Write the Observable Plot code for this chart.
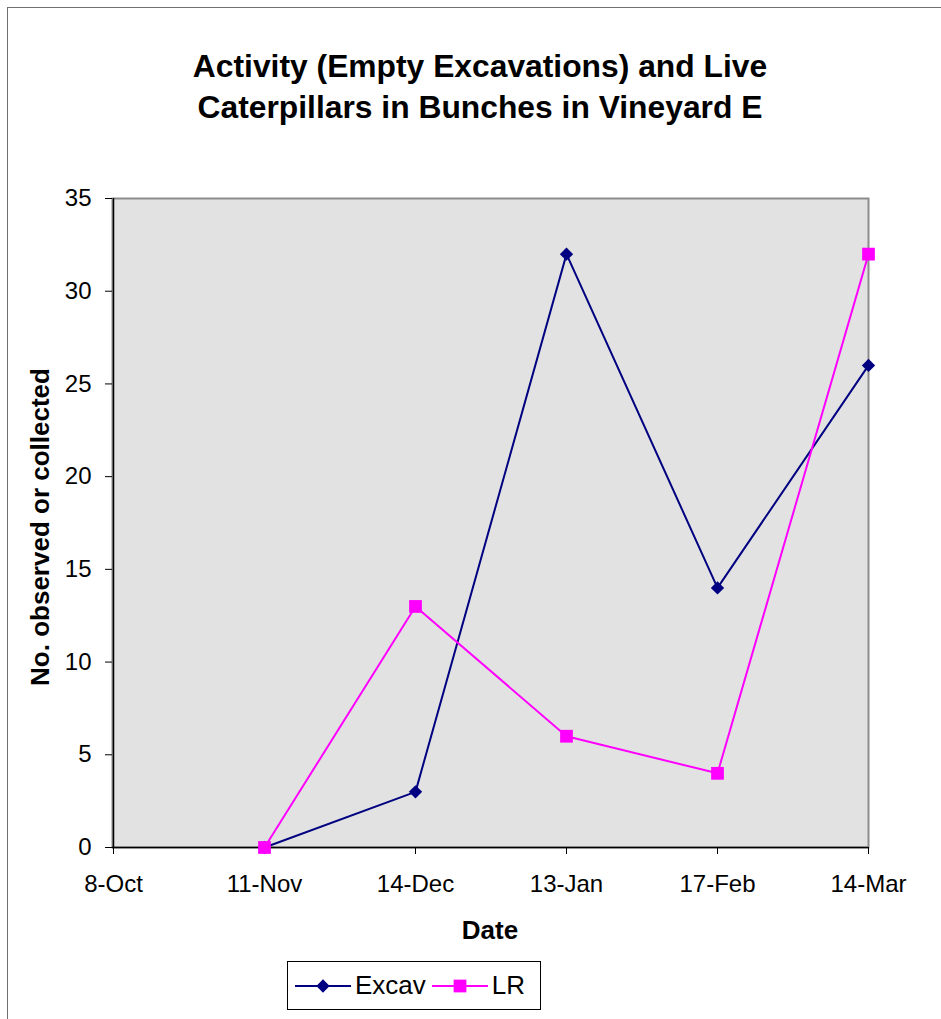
<!DOCTYPE html>
<html>
<head>
<meta charset="utf-8">
<script src="https://cdn.jsdelivr.net/npm/d3@7"></script>
<script src="https://cdn.jsdelivr.net/npm/@observablehq/plot@0.6"></script>
<style>
  html, body { margin: 0; padding: 0; background: #fff; }
  #chart { position: relative; width: 941px; height: 1019px; overflow: hidden;
           font-family: "Liberation Sans", Arial, sans-serif; color: #000; }
  #outline { position: absolute; left: 7px; top: 7px; width: 2000px; height: 2000px;
             border-left: 1.5px solid #707070; border-top: 1.5px solid #707070; }
  #plot { position: absolute; left: 0; top: 0; }
  #title { position: absolute; left: 0; width: 960px; top: 46px; text-align: center;
           font-weight: bold; font-size: 31.8px; line-height: 41px; }
  #ylabel { position: absolute; left: 40px; top: 527px; white-space: nowrap;
            transform: translate(-50%, -50%) rotate(-90deg);
            font-weight: bold; font-size: 26px; }
  #xlabel { position: absolute; left: 490px; top: 930px; transform: translate(-50%, -50%);
            font-weight: bold; font-size: 26px; }
  #legend { position: absolute; left: 287px; top: 961px; width: 252px; height: 47px;
            border: 1.5px solid #000; background: #fff; display: flex; align-items: center;
            font-size: 26px; box-sizing: content-box; }
  .item { display: flex; align-items: center; }
  .item svg { display: block; }
</style>
</head>
<body>
<div id="chart">
  <div id="outline"></div>
  <div id="plot"></div>
  <div id="title">Activity (Empty Excavations) and Live<br>Caterpillars in Bunches in Vineyard E</div>
  <div id="ylabel">No. observed or collected</div>
  <div id="xlabel">Date</div>
  <div id="legend"></div>
</div>
<script>
// Sampling dates (category axis) and counts per date
const dates = ["8-Oct", "11-Nov", "14-Dec", "13-Jan", "17-Feb", "14-Mar"];
const excav = [null, 0, 3, 32, 14, 26];   // empty excavations observed
const lr = [null, 0, 13, 6, 4, 32];       // live caterpillars collected
const yTicks = [0, 5, 10, 15, 20, 25, 30, 35];

const seriesNames = ["Excav", "LR"];
const colors = {Excav: "#000080", LR: "#ff00ff"};
const symbols = {Excav: "diamond2", LR: "square"};
const radii = {Excav: 6, LR: 7.2};

const rows = (name, vals) => dates.map((d, i) => ({date: d, value: vals[i], series: name}));
const excavRows = rows("Excav", excav);
const lrRows = rows("LR", lr);

const seriesMarks = (name, data) => [
  Plot.line(data, {x: "date", y: "value", stroke: colors[name], strokeWidth: 2,
                   defined: d => d.value != null}),
  Plot.dot(data.filter(d => d.value != null), {x: "date", y: "value", symbol: symbols[name],
                   r: radii[name], fill: colors[name], stroke: "none"})
];

const chart = Plot.plot({
  width: 941,
  height: 1019,
  marginLeft: 112,
  marginRight: 73,
  marginTop: 198,
  marginBottom: 172,
  style: {fontFamily: "'Liberation Sans', Arial, sans-serif", fontSize: "24px",
          color: "#000", background: "transparent"},
  x: {type: "point", domain: dates, padding: 0},
  y: {domain: [0, 35]},
  marks: [
    Plot.frame({fill: "#e2e2e2", stroke: "#8c8c8c", strokeWidth: 2}),
    Plot.ruleY([0], {stroke: "#000", strokeWidth: 1.5}),
    Plot.ruleX([dates[0]], {stroke: "#000", strokeWidth: 1.5}),
    Plot.axisY({ticks: yTicks, tickSize: 7, tickPadding: 14, label: null, stroke: "#000"}),
    Plot.axisX({tickSize: 7, tickPadding: 20, label: null, stroke: "#000"}),
    ...seriesMarks("Excav", excavRows),
    ...seriesMarks("LR", lrRows)
  ]
});
document.getElementById("plot").appendChild(chart);

// Legend: line sample with marker, then the series name
const legend = d3.select("#legend");
seriesNames.forEach((name, i) => {
  const item = legend.append("div").attr("class", "item")
    .style("margin-left", i === 0 ? "7px" : "6px");
  const svg = item.append("svg").attr("width", 56).attr("height", 30);
  svg.append("line").attr("x1", 0).attr("x2", 56).attr("y1", 15).attr("y2", 15)
    .attr("stroke", colors[name]).attr("stroke-width", 2);
  const size = Math.PI * radii[name] * radii[name];
  const sym = name === "Excav" ? d3.symbolDiamond2 : d3.symbolSquare;
  svg.append("path").attr("d", d3.symbol(sym, size)()).attr("transform", "translate(28,15)")
    .attr("fill", colors[name]);
  item.append("span").text(name).style("margin-left", "4px");
});
</script>
</body>
</html>
